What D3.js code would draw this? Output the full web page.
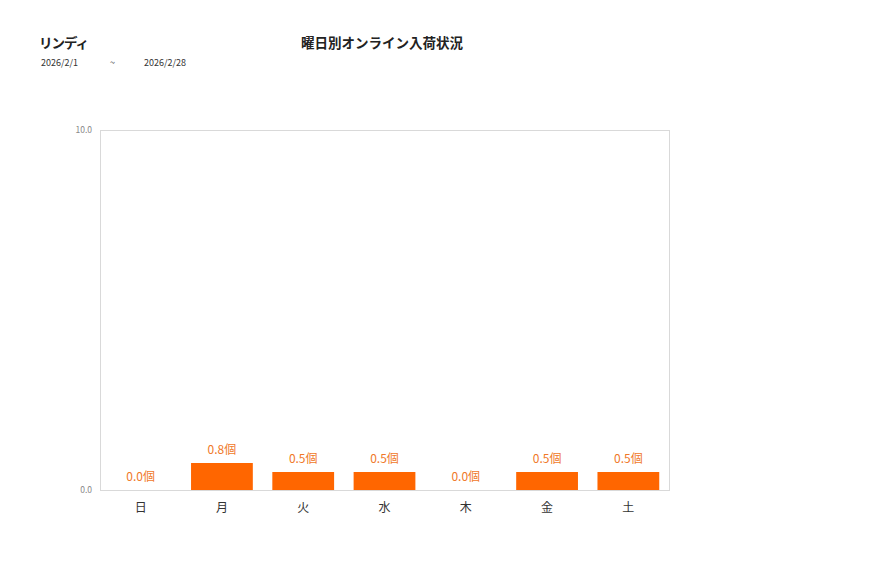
<!DOCTYPE html>
<html>
<head>
<meta charset="utf-8">
<script src="https://cdn.jsdelivr.net/npm/d3@7"></script>
<style>
  body { margin: 0; background: #fff; font-family: "Noto Sans CJK JP", "Noto Sans", sans-serif; }
</style>
</head>
<body>
<svg id="chart" width="877" height="578"></svg>
<script>
// data
var days = ["日", "月", "火", "水", "木", "金", "土"];
var counts = [0, 0.75, 0.5, 0.5, 0, 0.5, 0.5];
var yTicks = [0, 10];

var svg = d3.select("#chart")

// header
svg.append("text")
  .attr("x", 39).attr("y", 48)
  .attr("font-size", 13.5).attr("font-weight", "bold").attr("fill", "#222")
  .attr("letter-spacing", -1)
  .text("リンディ")

svg.append("text")
  .attr("x", 301).attr("y", 48)
  .attr("font-size", 13.5).attr("font-weight", "bold").attr("fill", "#222")
  .text("曜日別オンライン入荷状況")

svg.append("text").attr("x", 41).attr("y", 66).attr("font-size", 9).attr("fill", "#333").text("2026/2/1")
svg.append("text").attr("x", 110).attr("y", 66).attr("font-size", 9).attr("fill", "#333").text("~")
svg.append("text").attr("x", 144).attr("y", 66).attr("font-size", 9).attr("fill", "#333").text("2026/2/28")

// plot area
var plotL = 100, plotR = 669, plotT = 130, plotB = 490;

var x = d3.scaleBand().domain(days).range([plotL, plotR]).paddingInner(0.24).paddingOuter(0.12)
var y = d3.scaleLinear().domain([0, 10]).range([plotB, plotT])

svg.append("rect")
  .attr("x", plotL + 0.5).attr("y", plotT + 0.5)
  .attr("width", plotR - plotL).attr("height", plotB - plotT)
  .attr("fill", "none").attr("stroke", "#d9d9d9")

// y ticks
svg.selectAll(".ytick").data(yTicks).enter().append("text")
  .attr("class", "ytick")
  .attr("x", plotL - 8).attr("y", function(d) { return y(d) + 3 })
  .attr("text-anchor", "end").attr("font-size", 8.5).attr("fill", "#888")
  .text(function(d) { return d.toFixed(1) })

// x labels
svg.selectAll(".xlab").data(days).enter().append("text")
  .attr("class", "xlab")
  .attr("x", function(d) { return x(d) + x.bandwidth() / 2 })
  .attr("y", plotB + 22)
  .attr("text-anchor", "middle").attr("font-size", 12).attr("fill", "#333")
  .text(function(d) { return d })

// bars
svg.selectAll(".bar").data(counts).enter().append("rect")
  .attr("class", "bar")
  .attr("x", function(d, i) { return x(days[i]) })
  .attr("y", function(d) { return y(d) })
  .attr("width", x.bandwidth())
  .attr("height", function(d) { return plotB - y(d) })
  .attr("fill", "#ff6600")

// value labels
svg.selectAll(".val").data(counts).enter().append("text")
  .attr("class", "val")
  .attr("x", function(d, i) { return x(days[i]) + x.bandwidth() / 2 })
  .attr("y", function(d) { return y(d) - 9 })
  .attr("text-anchor", "middle").attr("font-size", 12).attr("fill", "#f07828")
  .text(function(d) { return d.toFixed(1) + "個" })
</script>
</body>
</html>
